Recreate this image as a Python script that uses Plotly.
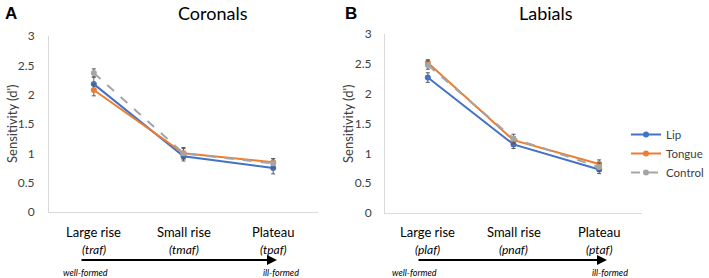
import plotly.graph_objects as go

categories = ["Large rise", "Small rise", "Plateau"]
coronal_words = ["(traf)", "(tmaf)", "(tpaf)"]
labial_words = ["(plaf)", "(pnaf)", "(ptaf)"]
series = ["Lip", "Tongue", "Control"]

coronal_lip = [2.18, 0.95, 0.75]
coronal_tongue = [2.08, 1.00, 0.85]
coronal_control = [2.37, 1.00, 0.83]
coronal_lip_err = [0.12, 0.08, 0.10]
coronal_tongue_err = [0.10, 0.08, 0.06]
coronal_control_err = [0.07, 0.10, 0.08]

labial_lip = [2.27, 1.15, 0.73]
labial_tongue = [2.52, 1.22, 0.82]
labial_control = [2.48, 1.25, 0.77]
labial_lip_err = [0.08, 0.07, 0.07]
labial_tongue_err = [0.05, 0.06, 0.07]
labial_control_err = [0.07, 0.07, 0.07]

y_ticks = [0, 0.5, 1, 1.5, 2, 2.5, 3]

W, H = 709, 278
FONT = "Lato"
colors = {"Lip": "#4472C4", "Tongue": "#ED7D31", "Control": "#A5A5A5"}
dashes = {"Lip": "solid", "Tongue": "solid", "Control": "dash"}

def px(x):
    return x / W

def py(y):
    return (H - y) / H

fig = go.Figure()
xs = list(range(len(categories)))

panels = [
    ("x", "y", [coronal_lip, coronal_tongue, coronal_control],
     [coronal_lip_err, coronal_tongue_err, coronal_control_err], True),
    ("x2", "y2", [labial_lip, labial_tongue, labial_control],
     [labial_lip_err, labial_tongue_err, labial_control_err], False),
]
for xa, ya, vals, errs, first in panels:
    for name, v, e in zip(series, vals, errs):
        fig.add_trace(go.Scatter(
            x=xs, y=v, name=name, xaxis=xa, yaxis=ya, mode="lines+markers",
            line=dict(color=colors[name], width=2, dash=dashes[name]),
            marker=dict(color=colors[name], size=6),
            error_y=dict(type="data", array=e, color="#595959", thickness=1, width=2),
            showlegend=not first,
        ))

axis_common = dict(showgrid=False, zeroline=False, showline=True, linecolor="#D9D9D9",
                   linewidth=1)
fig.update_layout(
    width=W, height=H, margin=dict(l=0, r=0, t=0, b=0, autoexpand=False),
    paper_bgcolor="white", plot_bgcolor="white",
    font=dict(family=FONT, color="#333333"),
    xaxis=dict(domain=[px(49), px(318)], range=[-0.5, 2.5], showticklabels=False,
               anchor="y", **axis_common),
    yaxis=dict(domain=[py(212), py(36)], range=[0, 3], tickvals=y_ticks,
               ticks="", ticklabelstandoff=11, tickfont=dict(size=12, color="#404040"),
               anchor="x", **axis_common),
    xaxis2=dict(domain=[px(385), px(642)], range=[-0.5, 2.5], showticklabels=False,
                anchor="y2", **axis_common),
    yaxis2=dict(domain=[py(213), py(34)], range=[0, 3], tickvals=y_ticks,
                ticks="", ticklabelstandoff=10, tickfont=dict(size=12, color="#404040"),
                anchor="x2", **axis_common),
    legend=dict(x=1, y=py(120), xanchor="right", yanchor="top",
                font=dict(size=11.5, color="#404040"), itemwidth=30,
                tracegroupgap=0, bgcolor="rgba(0,0,0,0)", borderwidth=0),
)

ann = []
def text(t, x, y, size, color="black", family=None, xref="paper", angle=0, xanchor="center"):
    f = dict(size=size, color=color)
    if family:
        f["family"] = family
    ann.append(dict(text=t, x=x, y=y, xref=xref, yref="paper", xanchor=xanchor,
                    yanchor="middle", showarrow=False, textangle=angle, font=f))

text("<b>A</b>", px(3), py(13), 17, family="Liberation Sans", xanchor="left")
text("<b>B</b>", px(343), py(13), 17, family="Liberation Sans", xanchor="left")
text("Coronals", px(213), py(13), 18)
text("Labials", px(546), py(13), 18)
for xpos in (12, 348):
    text("Sensitivity (d')", px(xpos), py(124), 13, color="#404040", angle=-90)
for xa, words in (("x", coronal_words), ("x2", labial_words)):
    for i, (c, w) in enumerate(zip(categories, words)):
        text(c, i, py(232), 13, xref=xa)
        text("<i>" + w + "</i>", i, py(249), 12, xref=xa)
for x0, x1, wl, il in ((80, 277, 85, 281), (417, 607, 414, 610)):
    ann.append(dict(text="", x=px(x1), y=py(260), xref="paper", yref="paper",
                    ax=x0 - x1, ay=0, axref="pixel", ayref="pixel",
                    showarrow=True, arrowhead=2, arrowsize=1, arrowwidth=2,
                    arrowcolor="black"))
    text("<i>well-formed</i>", px(wl), py(272), 9)
    text("<i>ill-formed</i>", px(il), py(272), 9)
fig.update_layout(annotations=ann)

fig.write_html("out.html", config={"displayModeBar": False},
               post_script="document.body.style.margin='0';")
